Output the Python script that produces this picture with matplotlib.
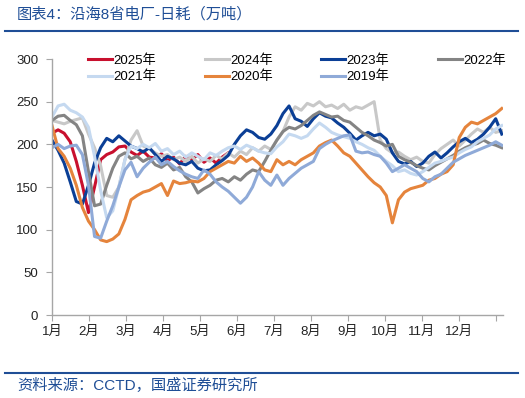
import numpy as np
import matplotlib
matplotlib.use("Agg")
import matplotlib.pyplot as plt
from matplotlib.lines import Line2D

plt.rcParams['font.family'] = ['Liberation Sans', 'Noto Sans CJK SC']

# day index, one value every 5 days
days = np.arange(0, 371, 5)

v2025 = [213, 217, 213, 203, 180, 152, 120, 150, 182, 188, 191, 197, 198, 191, 187,
         192, 185, 184, 189, 181, 185, 177, 186, 182, 188, 179, 184, 178, 185, 190]

v2024 = [228, 226, 224, 227, 229, 231, 212, 196, 175, 140, 138, 150, 182, 205, 216,
         198, 195, 190, 186, 188, 182, 185, 180, 186, 178, 183, 180, 187, 183, 190,
         185, 192, 188, 196, 192, 198, 194, 205, 215, 232, 244, 240, 248, 245, 250,
         244, 246, 242, 247, 240, 244, 242, 246, 250, 205, 195, 190, 191, 186, 182,
         185, 180, 178, 188, 195, 200, 205, 198, 205, 212, 218, 214, 220, 214, 216]

v2023 = [205, 193, 178, 156, 133, 130, 152, 178, 196, 207, 203, 210, 204, 198, 195,
         191, 196, 188, 180, 186, 183, 178, 176, 180, 172, 169, 170, 176, 181, 187,
         200, 210, 217, 214, 208, 206, 212, 222, 236, 245, 230, 227, 221, 230, 237,
         233, 231, 225, 220, 213, 205, 210, 214, 210, 212, 206, 190, 180, 177, 180,
         174, 178, 186, 191, 184, 190, 197, 203, 207, 202, 206, 212, 220, 230, 212]

v2022 = [228, 233, 234, 228, 223, 210, 168, 128, 130, 152, 172, 186, 190, 183, 186,
         180, 184, 176, 173, 178, 170, 173, 162, 156, 143, 148, 152, 158, 160, 156,
         162, 158, 165, 170, 168, 180, 193, 205, 215, 220, 218, 222, 228, 234, 238,
         235, 232, 233, 228, 226, 220, 214, 210, 205, 202, 198, 200, 186, 182, 179,
         175, 172, 170, 175, 179, 183, 187, 192, 196, 199, 201, 205, 201, 199, 196]

v2021 = [232, 245, 247, 240, 237, 232, 220, 186, 146, 114, 122, 150, 182, 198, 195,
         200, 196, 201, 192, 195, 188, 192, 185, 190, 186, 182, 190, 187, 192, 196,
         198, 194, 199, 196, 192, 190, 189, 197, 203, 212, 210, 207, 210, 218, 225,
         220, 214, 211, 209, 207, 203, 200, 196, 193, 186, 180, 175, 168, 170, 166,
         164, 168, 173, 178, 180, 183, 185, 190, 194, 197, 203, 207, 211, 218, 222]

v2020 = [222, 195, 186, 172, 152, 126, 110, 100, 88, 86, 89, 95, 112, 135, 140,
         144, 146, 150, 154, 140, 157, 154, 155, 157, 156, 160, 168, 172, 176, 180,
         178, 186, 180, 184, 178, 170, 168, 182, 176, 180, 176, 182, 186, 190, 198,
         202, 205, 198, 190, 186, 178, 170, 162, 155, 150, 140, 108, 135, 144, 148,
         150, 152, 158, 160, 165, 168, 176, 208, 220, 226, 224, 228, 232, 236, 242]

v2019 = [196, 200, 195, 198, 199, 188, 152, 92, 90, 110, 128, 150, 170, 179, 162,
         172, 179, 185, 176, 180, 174, 169, 165, 162, 160, 170, 165, 156, 150, 145,
         138, 131, 138, 150, 168, 158, 152, 164, 152, 160, 166, 172, 176, 180, 195,
         200, 204, 207, 210, 211, 192, 190, 191, 188, 186, 178, 168, 172, 176, 172,
         168, 160, 156, 162, 165, 172, 179, 183, 187, 190, 193, 196, 199, 203, 199]

years = ['2025年', '2024年', '2023年', '2022年', '2021年', '2020年', '2019年']
series = [v2025, v2024, v2023, v2022, v2021, v2020, v2019]
colors = ['#C8102E', '#C8C8C8', '#0B3F96', '#848484', '#C5D9F0', '#E5843C', '#8FAAD8']

months = [f'{i}月' for i in range(1, 13)]

fig = plt.figure(figsize=(5.25, 3.98), dpi=100)
ax = fig.add_axes([52 / 525, 1 - 315 / 398, 451 / 525, 256 / 398])

lines = []
for name, vals, c in zip(years, series, colors):
    ln, = ax.plot(days[:len(vals)], vals, color=c, lw=2.2, label=name)
    lines.append(ln)

ax.set_xlim(0, 371)
ax.set_ylim(0, 300)
ax.set_yticks(range(0, 301, 50))
ax.set_xticks([i * 365 / 12 for i in range(13)])
ax.set_xticklabels(months + [''])

for s in ['top', 'right']:
    ax.spines[s].set_visible(False)
for s in ['left', 'bottom']:
    ax.spines[s].set_color('#A6A6A6')
    ax.spines[s].set_linewidth(1.0)
ax.tick_params(axis='y', length=4, color='#A6A6A6', pad=6, labelsize=9.5, labelcolor='#222222')
ax.tick_params(axis='x', length=4, color='#A6A6A6', pad=4, labelsize=9.5, labelcolor='#222222')

# legend, row order 2025..2022 / 2021..2019
order = [0, 4, 1, 5, 2, 6, 3]
leg = ax.legend([lines[i] for i in order], [years[i] for i in order],
                ncol=4, loc='upper left', bbox_to_anchor=(88 / 525, 1 - 54 / 398),
                bbox_transform=fig.transFigure, frameon=False, fontsize=9.5,
                borderpad=0, borderaxespad=0, handlelength=1.8, handletextpad=0.1,
                columnspacing=3.7, labelspacing=0.3)

blue = '#1F4E96'
fig.text(17 / 525, 1 - 14 / 398, '图表4：沿海8省电厂-日耗（万吨）', color=blue,
         fontsize=11, va='center', ha='left')
fig.add_artist(Line2D([5 / 525, 518 / 525], [1 - 31 / 398] * 2, color=blue, lw=1.5,
                      transform=fig.transFigure))
fig.add_artist(Line2D([5 / 525, 518 / 525], [1 - 373 / 398] * 2, color=blue, lw=1.5,
                      transform=fig.transFigure))
fig.text(17 / 525, 1 - 385 / 398, '资料来源：CCTD，国盛证券研究所', color=blue,
         fontsize=11, va='center', ha='left')

fig.savefig('out.png', dpi=100)
